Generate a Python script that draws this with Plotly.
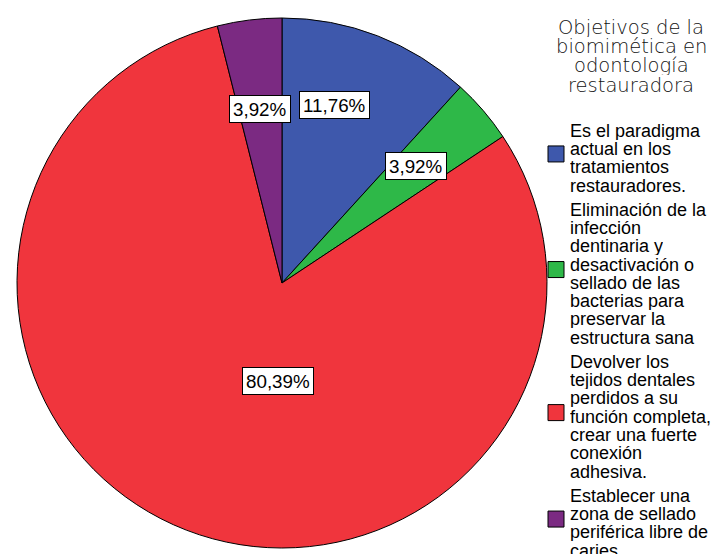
import plotly.graph_objects as go

# ---- data ----
categories = [
    "Es el paradigma<br>actual en los<br>tratamientos<br>restauradores.",
    "Eliminación de la<br>infección<br>dentinaria y<br>desactivación o<br>sellado de las<br>bacterias para<br>preservar la<br>estructura sana",
    "Devolver los<br>tejidos dentales<br>perdidos a su<br>función completa,<br>crear una fuerte<br>conexión<br>adhesiva.",
    "Establecer una<br>zona de sellado<br>periférica libre de<br>caries.",
]
percentages = [11.76, 3.92, 80.39, 3.92]
legend_title_lines = ["Objetivos de la", "biomimética en", "odontología", "restauradora"]

# ---- style / layout ----
colors = ["#3E58AC", "#2EB848", "#F0353D", "#7B2A82"]
label_centers_px = [(334, 105), (416, 165.5), (277.5, 381), (260, 109)]

W, H = 718, 554
def X(px):
    return px / W
def Y(py):
    return 1 - py / H

fig = go.Figure(go.Pie(
    values=percentages,
    labels=[c.replace("<br>", " ") for c in categories],
    sort=False,
    direction="clockwise",
    rotation=0,
    marker=dict(colors=colors, line=dict(color="black", width=1)),
    textinfo="none",
    hoverinfo="label+percent",
    showlegend=False,
    domain=dict(x=[X(17), X(547)], y=[Y(548), Y(18)]),
))

annotations = []
shapes = []

# slice labels
for v, (cx, cy) in zip(percentages, label_centers_px):
    annotations.append(dict(
        x=X(cx), y=Y(cy), xref="paper", yref="paper",
        text=f"{v:.2f}".replace(".", ",") + "%",
        showarrow=False, xanchor="center", yanchor="middle",
        font=dict(family="Arial, Liberation Sans", size=18.8, color="black"),
        bgcolor="white", bordercolor="black", borderwidth=1, borderpad=3,
        height=20,
    ))

# legend title
title_size = 19.5
for i, line in enumerate(legend_title_lines):
    top = 20 + i * 19.3
    annotations.append(dict(
        x=X(631), y=Y(top + 0.37 * title_size), xref="paper", yref="paper",
        text=line, showarrow=False, xanchor="center", yanchor="middle",
        font=dict(family="DejaVu Sans ExtraLight, DejaVu Sans", size=title_size,
                  color="#111111", weight=200),
        height=19, borderpad=0,
    ))

# legend items
fs = 18
line_step = 18.3
gap = 5.8
top = 124.0
for cat, col in zip(categories, colors):
    lines = cat.split("<br>")
    first = top
    for j, ln in enumerate(lines):
        t = top + j * line_step
        annotations.append(dict(
            x=X(569), y=Y(t + 0.37 * fs), xref="paper", yref="paper",
            text=ln, showarrow=False, xanchor="left", yanchor="middle",
            font=dict(family="Arial, Liberation Sans", size=fs, color="black"),
            height=18, borderpad=0,
        ))
    last_bottom = top + (len(lines) - 1) * line_step + 13
    mid = (first + last_bottom) / 2 - 4
    shapes.append(dict(
        type="rect", xref="paper", yref="paper",
        x0=X(548), x1=X(564), y0=Y(mid + 8), y1=Y(mid - 8),
        fillcolor=col, line=dict(color="black", width=1),
    ))
    top = top + len(lines) * line_step + gap

fig.update_layout(
    width=W, height=H,
    margin=dict(l=0, r=0, t=0, b=0),
    paper_bgcolor="white", plot_bgcolor="white",
    annotations=annotations, shapes=shapes,
)

fig.write_html("out.html")
